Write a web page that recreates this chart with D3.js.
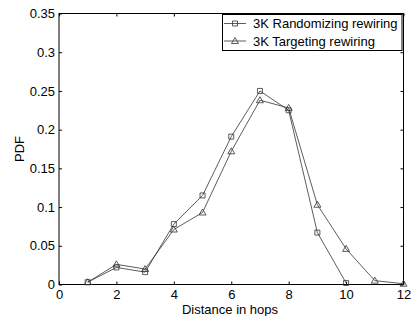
<!DOCTYPE html>
<head>
  <meta charset="utf-8">
  <script src="https://d3js.org/d3.v7.min.js"></script>
  <style>
    body { margin: 0; background: #fff; }
    text { font-family: "Liberation Sans", Arial, Helvetica, sans-serif; font-size: 13px; fill: #000; }
    .series { fill: none; stroke: #333; stroke-width: 0.8px; }
    .marker { fill: none; stroke: #333; stroke-width: 0.8px; }
  </style>
</head>

<body>
  <script>
    // data
    var hopsRand = [1, 2, 3, 4, 5, 6, 7, 8, 9, 10];
    var pdfRand  = [0.003, 0.022, 0.016, 0.078, 0.115, 0.191, 0.250, 0.225, 0.067, 0.002];
    var hopsTarg = [1, 2, 3, 4, 5, 6, 7, 8, 9, 10, 11, 12];
    var pdfTarg  = [0.003, 0.026, 0.020, 0.071, 0.093, 0.172, 0.238, 0.228, 0.103, 0.046, 0.005, 0.001];
    var xTicks = [0, 2, 4, 6, 8, 10, 12];
    var yTicks = [0, 0.05, 0.1, 0.15, 0.2, 0.25, 0.3, 0.35];
    var legendLabels = ["3K Randomizing rewiring", "3K Targeting rewiring"];

    var svg = d3.select("body").append("svg")
      .attr("width", 411)
      .attr("height", 316);

    // plot box (note: "top" is taken by window.top)
    var pL = 59, pR = 403.5, pT = 13.5, pB = 284.5;

    var x = d3.scaleLinear().domain([0, 12]).range([pL, pR]);
    var y = d3.scaleLinear().domain([0, 0.35]).range([pB, pT]);
    var fmt = function(d) { return String(+d.toFixed(2)); };

    // axes, ticks pointing inwards on all four sides
    svg.append("g")
      .attr("transform", "translate(0," + pB + ")")
      .call(d3.axisBottom(x).tickValues(xTicks).tickSize(-3).tickSizeOuter(0).tickPadding(5).tickFormat(fmt));
    svg.append("g")
      .attr("transform", "translate(0," + pT + ")")
      .call(d3.axisTop(x).tickValues(xTicks).tickSize(-3).tickSizeOuter(0).tickFormat(""));
    svg.append("g")
      .attr("transform", "translate(" + pL + ",0)")
      .call(d3.axisLeft(y).tickValues(yTicks).tickSize(-3).tickSizeOuter(0).tickPadding(4).tickFormat(fmt));
    svg.append("g")
      .attr("transform", "translate(" + pR + ",0)")
      .call(d3.axisRight(y).tickValues(yTicks).tickSize(-3).tickSizeOuter(0).tickFormat(""));

    svg.selectAll(".domain").remove();
    svg.selectAll(".tick line").attr("stroke", "#000");
    svg.selectAll(".tick text").attr("font-size", 12).attr("font-family", "Liberation Sans, Arial, sans-serif").attr("fill", "#000");

    svg.append("rect")
      .attr("x", pL).attr("y", pT)
      .attr("width", pR - pL).attr("height", pB - pT)
      .attr("fill", "none").attr("stroke", "#000").attr("stroke-width", 1);

    // labels
    svg.append("text")
      .attr("x", 230)
      .attr("y", 313.5)
      .attr("text-anchor", "middle")
      .text("Distance in hops");
    svg.append("text")
      .attr("transform", "translate(24," + (pT + pB) / 2 + ") rotate(-90)")
      .attr("text-anchor", "middle")
      .text("PDF");

    var line = d3.line()
      .x(function(d) { return x(d[0]); })
      .y(function(d) { return y(d[1]); });

    var rand = d3.zip(hopsRand, pdfRand);
    var targ = d3.zip(hopsTarg, pdfTarg);

    var square = d3.symbol().type(d3.symbolSquare).size(25);
    var triangle = function(cx, cy) {
      return "M" + cx + "," + (cy - 3.5) + "L" + (cx + 3.5) + "," + (cy + 2.5) + "L" + (cx - 3.5) + "," + (cy + 2.5) + "Z";
    };

    svg.append("path").datum(rand).attr("class", "series").attr("d", line);
    svg.selectAll(".sq").data(rand).enter().append("path")
      .attr("class", "marker sq")
      .attr("transform", function(d) { return "translate(" + x(d[0]) + "," + y(d[1]) + ")"; })
      .attr("d", square);

    svg.append("path").datum(targ).attr("class", "series").attr("d", line);
    svg.selectAll(".tri").data(targ).enter().append("path")
      .attr("class", "marker tri")
      .attr("d", function(d) { return triangle(x(d[0]), y(d[1])); });

    // legend
    var lg = svg.append("g");
    lg.append("rect")
      .attr("x", 222.5).attr("y", 14.5)
      .attr("width", 179.5).attr("height", 36)
      .attr("fill", "#fff").attr("stroke", "#000").attr("stroke-width", 1);
    var rows = [23.5, 41];
    lg.selectAll(".lgline").data(legendLabels).enter().append("line")
      .attr("class", "series")
      .attr("x1", 224).attr("x2", 246)
      .attr("y1", function(d, i) { return rows[i]; })
      .attr("y2", function(d, i) { return rows[i]; });
    lg.append("path").attr("class", "marker")
      .attr("transform", "translate(235," + rows[0] + ")")
      .attr("d", square);
    lg.append("path").attr("class", "marker")
      .attr("d", triangle(235, rows[1]));
    lg.selectAll(".lgtext").data(legendLabels).enter().append("text")
      .attr("x", 253)
      .attr("y", function(d, i) { return rows[i] + 4.6; })
      .text(function(d) { return d; });
  </script>
</body>
